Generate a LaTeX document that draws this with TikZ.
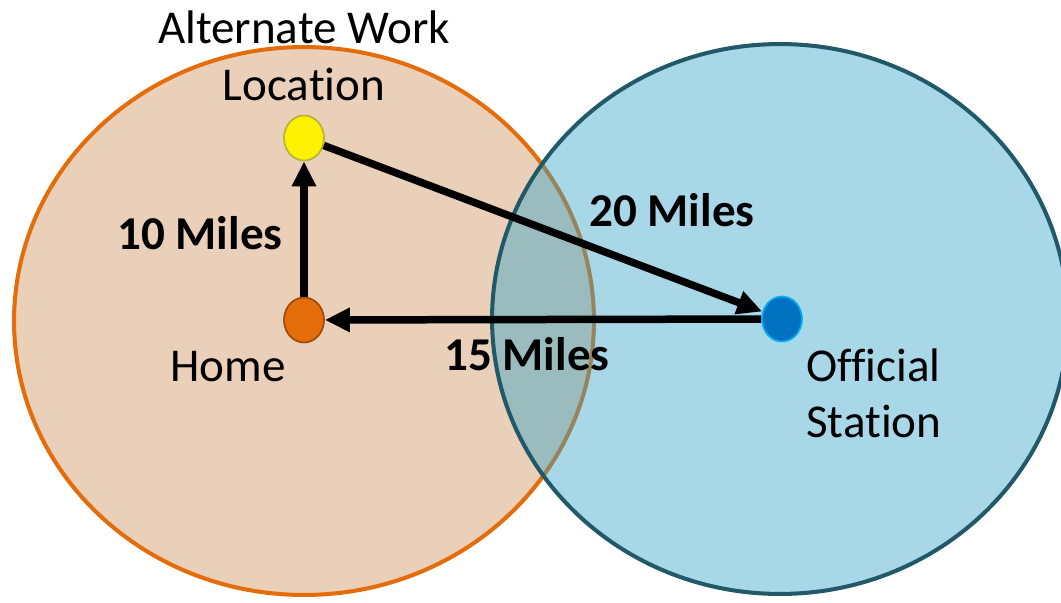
\documentclass[tikz,border=0pt]{standalone}
\usepackage{fontspec}
\setmainfont{Carlito}[Ligatures={NoCommon}]
\usepackage{tikz}
\usetikzlibrary{arrows.meta,positioning,shapes.geometric}
\definecolor{peach}{RGB}{234,207,185}
\definecolor{homeorange}{RGB}{228,108,10}
\definecolor{stationblue}{RGB}{53,164,201}
\definecolor{stationteal}{RGB}{33,89,104}
\definecolor{officedot}{RGB}{0,112,192}
\definecolor{officering}{RGB}{0,176,240}

\tikzset{
  dot/.style={ellipse,minimum width=0.8cm,minimum height=0.9cm,inner sep=0pt,line width=1pt},
  trip/.style={line width=0.15cm,-{Triangle[width=0.46cm,length=0.5cm]}},
  lbl/.style={anchor=base,inner sep=0pt},
  miles/.style={lbl,font=\fontsize{26.8}{32}\selectfont\bfseries}
}

\begin{document}
\begin{tikzpicture}[x=0.02cm,y=-0.02cm,font=\fontsize{26.8}{32}\selectfont]
\useasboundingbox (0,0) rectangle (1061,602);
\filldraw[fill=peach,draw=homeorange,line width=2.3pt] (304,321) ellipse [x radius=5.8cm,y radius=5.48cm];
\filldraw[fill=stationblue,fill opacity=0.43,draw=stationteal,line width=2.3pt] (780,319) ellipse [x radius=5.76cm,y radius=5.5cm];

\node[dot,fill=yellow,draw=yellow!70!black] (loc) at (304,138) {};
\node[dot,fill=homeorange,draw=homeorange!70!black] (home) at (304,320) {};
\node[dot,fill=officedot,draw=officering] (office) at (782,319) {};

\draw[trip] (home) -- (loc);
\draw[trip] (loc) -- (office);
\draw[trip] (office) -- (home);

\node[lbl] (loclbl) at (304,100) {Location};
\node[lbl] (altlbl) at (304,43) {Alternate Work};
\node[lbl] (homelbl) at (228,381) {Home};
\node[lbl,anchor=base west] (offlbl) at (806,381) {Official};
\node[lbl,anchor=base west] (statlbl) at (806,437) {Station};
\node[miles] (ten) at (200,249) {10 Miles};
\node[miles] (twenty) at (672,226) {20 Miles};
\node[miles] (fifteen) at (527,370) {15 Miles};
\end{tikzpicture}
\end{document}
